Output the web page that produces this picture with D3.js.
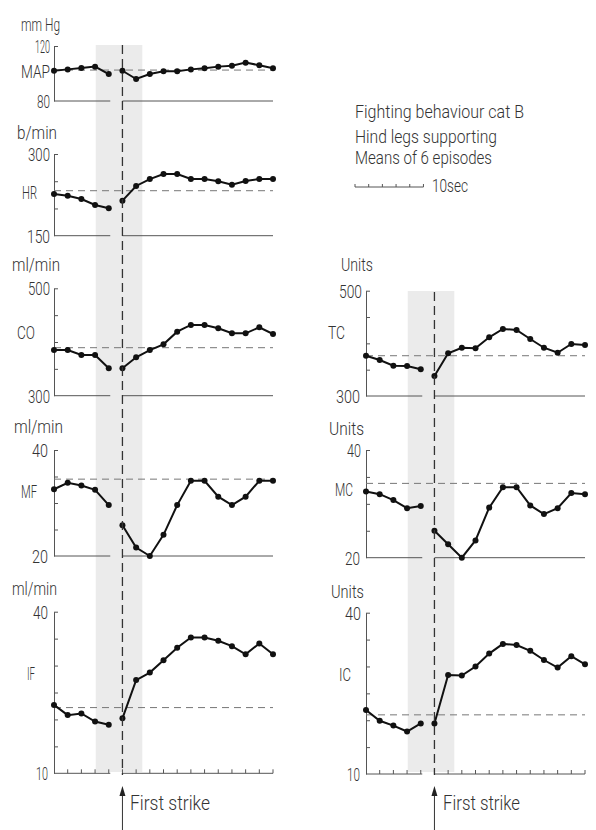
<!DOCTYPE html>
<html><head><meta charset="utf-8">
<script src="https://cdn.jsdelivr.net/npm/d3@7"></script>
<style>
html,body{margin:0;padding:0;background:#fff;}
svg text{font-family:Roboto,"Liberation Sans",Arial,sans-serif;font-weight:300;fill:#333;}
</style></head>
<body>
<svg id="c" width="596" height="830"></svg>
<script>
// ---- data (time index 0..16, 2 s steps; index 5 = first strike) ----
const timeIdx = d3.range(17);
const strikeIdx = 5;
const shadeIdx = [3.05, 6.45];
const MAP = [102,103,104,105,99.6, 102,96,99.6,101.6,101.6,103,103.8,105,105.7,107.9,106,103.8];
const HR  = [226.6,223.4,217.4,206.4,200.3, 214.3,241.3,254,263.3,263.3,254,254,249.9,243.6,250.4,254,254];
const CO  = [385,385,375.8,375.8,351, 351,371.5,385,395.7,419.2,431.7,431.7,425.5,416.2,416.2,427.4,414.9];
const MF  = [32.6,33.8,33.3,32.5,29.6, 25.8,21.6,20,24,29.6,34.2,34.2,31.2,29.6,31.2,34.2,34.2];
const IF  = [22.7,20.8,21.1,19.6,19.0, 20.2,27.3,28.7,31.0,33.3,35.2,35.2,34.6,33.6,32.1,34.1,32.1];
const TC  = [376.5,368.4,357.6,357,350.7, 338,381.1,391.7,390.6,411.5,427.3,425.4,408.3,391.7,382.2,398.8,396.9];
const MC  = [32.3,31.8,30.7,29.2,29.6, 25.0,22.5,20,23.2,29.3,33.1,33.1,29.7,28.1,29.2,32.0,31.8];
const IC  = [21.9,19.9,19.0,17.9,19.4, 19.4,28.4,28.3,30.0,32.4,34.2,34.0,32.9,31.2,29.8,31.9,30.4];
const baselines = {MAP:102.5, HR:232.6, CO:389.4, MF:34.5, IF:22.2, TC:376.5, MC:33.8, IC:21.0};
const domains = {MAP:[80,120], HR:[150,300], CO:[300,500], MF:[20,40], IF:[10,40], TC:[300,500], MC:[20,40], IC:[10,40]};
const yTicks = {MAP:[], HR:[200,250], CO:[350,400,450], MF:[25,30,35], IF:[15,20,25,30,35], TC:[350,400,450], MC:[25,30,35], IC:[15,20,25,30,35]};
const units = {MAP:"mm Hg", HR:"b/min", CO:"ml/min", MF:"ml/min", IF:"ml/min", TC:"Units", MC:"Units", IC:"Units"};
const legendLines = ["Fighting behaviour cat B","Hind legs supporting","Means of 6 episodes"];
const scaleLabel = "10sec";
const strikeLabel = "First strike";

// ---- layout ----
const svg = d3.select("#c");
const xL = d3.scaleLinear().domain([0,16]).range([54,273]);
const xR = d3.scaleLinear().domain([0,16]).range([366,585]);
const panels = [
  {k:"MAP", v:MAP, x:xL, r:[101,46],    unit:[21,30.5,39], name:[21,70.7,29], tl:[[50,15],[50,13]]},
  {k:"HR",  v:HR,  x:xL, r:[235.7,154], unit:[17,138.5,40], name:[22,191.7,15], tl:[[50,22],[50,23]]},
  {k:"CO",  v:CO,  x:xL, r:[395.7,288.3], unit:[12,271,48], name:[17,331.7,18], tl:[[50,22],[50,22]]},
  {k:"MF",  v:MF,  x:xL, r:[556,450],   unit:[14,432.5,49], name:[21,490.7,16], tl:[[48,16],[48,16]]},
  {k:"IF",  v:IF,  x:xL, r:[773.3,611.7], unit:[12,594.5,45], name:[27,673,8], tl:[[48,15],[48,12]], xt:true},
  {k:"TC",  v:TC,  x:xR, r:[396,290.7], unit:[341,271,32], name:[328,331.7,17], tl:[[362,23],[360,24]]},
  {k:"MC",  v:MC,  x:xR, r:[557.7,450], unit:[329,434.5,35], name:[335,489.3,18], tl:[[361,14],[360,15]]},
  {k:"IC",  v:IC,  x:xR, r:[774,612.7], unit:[331,597.5,33], name:[339,674,12], tl:[[361,16],[360,13]], xt:true}
];
function T(str,x,y,w,anchor,size){
  return svg.append("text").attr("x",x).attr("y",y).attr("text-anchor",anchor||"start")
    .attr("font-size",size||19).attr("textLength",w).attr("lengthAdjust","spacingAndGlyphs").text(str);
}

// shading bands
const bands = [{x:xL, y0:45, y1:772},{x:xR, y0:291, y1:772}];
bands.forEach(b=>{
  svg.append("rect").attr("x",b.x(shadeIdx[0])).attr("y",b.y0)
    .attr("width",b.x(shadeIdx[1])-b.x(shadeIdx[0])).attr("height",b.y1-b.y0).attr("fill","#ebebeb");
});

panels.forEach(p=>{
  const y = d3.scaleLinear().domain(domains[p.k]).range(p.r);
  const x = p.x;
  const g = svg.append("g");
  const ax = g.append("g").attr("transform",`translate(${x(0)},0)`)
    .call(d3.axisLeft(y).tickValues(yTicks[p.k].concat([domains[p.k][1]])).tickSize(-4).tickSizeOuter(0).tickFormat(""));
  ax.selectAll("path,line").attr("stroke","#555").attr("stroke-width",1);
  [[0,strikeIdx-1],[strikeIdx,16]].forEach(([a,b])=>{
    g.append("line").attr("x1",x(a)).attr("x2",x(b)+(a===0?1.5:0)).attr("y1",y(domains[p.k][0])).attr("y2",y(domains[p.k][0]))
      .attr("stroke","#555").attr("stroke-width",1);
  });
  if(p.xt){
    g.selectAll("line.xt").data(timeIdx.filter(i=>i>0)).join("line").attr("class","xt")
      .attr("x1",d=>x(d)).attr("x2",d=>x(d)).attr("y1",y(domains[p.k][0])).attr("y2",y(domains[p.k][0])-4)
      .attr("stroke","#555").attr("stroke-width",1);
  }
  g.append("line").attr("x1",x(0)).attr("x2",x(16)).attr("y1",y(baselines[p.k])).attr("y2",y(baselines[p.k]))
    .attr("stroke","#777").attr("stroke-width",1).attr("stroke-dasharray","7,5");
  const line = d3.line().x(d=>x(d.i)).y(d=>y(d.v));
  const pts = p.v.map((v,i)=>({i,v}));
  [pts.slice(0,strikeIdx), pts.slice(strikeIdx)].forEach(seg=>{
    g.append("path").attr("d",line(seg)).attr("fill","none").attr("stroke","#111").attr("stroke-width",2);
  });
  g.selectAll("circle").data(pts).join("circle").attr("cx",d=>x(d.i)).attr("cy",d=>y(d.v)).attr("r",3).attr("fill","#111");
  T(units[p.k], p.unit[0], p.unit[1], p.unit[2], "start", 19);
  T(p.k, p.name[0], p.name[1]+6.8, p.name[2], "start", 19);
  T(String(domains[p.k][1]), p.tl[0][0], y(domains[p.k][1])+6.8, p.tl[0][1], "end", 19);
  T(String(domains[p.k][0]), p.tl[1][0], y(domains[p.k][0])+6.8, p.tl[1][1], "end", 19);
});

[{x:xL, y0:45, lx:130, lw:80},{x:xR, y0:292, lx:443, lw:77}].forEach(s=>{
  const xs = s.x(strikeIdx);
  svg.append("line").attr("x1",xs).attr("x2",xs).attr("y1",s.y0).attr("y2",775)
    .attr("stroke","#333").attr("stroke-width",1.3).attr("stroke-dasharray","9,5");
  svg.append("line").attr("x1",xs).attr("x2",xs).attr("y1",794).attr("y2",830).attr("stroke","#333").attr("stroke-width",1);
  svg.append("path").attr("d",`M${xs},786 L${xs-3},796 L${xs+3},796 Z`).attr("fill","#222");
  T(strikeLabel, s.lx, 809.5, s.lw, "start", 21);
});

const lgY = [118, 142.5, 163.5], lgW = [169,142,137];
legendLines.forEach((t,i)=>T(t, 355, lgY[i], lgW[i], "start", 18));
const sb = {x0:355, y:187};
const step = xL(1)-xL(0);
svg.append("line").attr("x1",sb.x0).attr("x2",sb.x0+5*step).attr("y1",sb.y).attr("y2",sb.y).attr("stroke","#555").attr("stroke-width",1);
svg.selectAll("line.sb").data(d3.range(6)).join("line").attr("class","sb")
  .attr("x1",d=>sb.x0+d*step).attr("x2",d=>sb.x0+d*step).attr("y1",sb.y).attr("y2",sb.y-3).attr("stroke","#555");
T(scaleLabel, 432, 191.5, 36, "start", 18);
</script>
</body></html>
